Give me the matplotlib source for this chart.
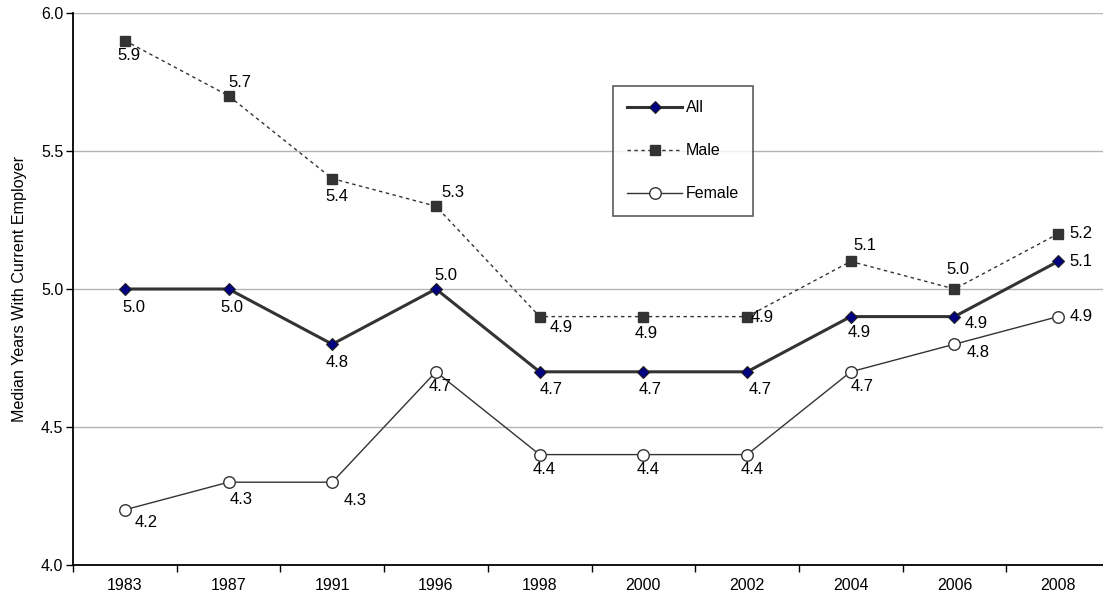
import numpy as np
import matplotlib
matplotlib.use('Agg')
import matplotlib.pyplot as plt

plt.rcParams['font.family'] = ['Liberation Sans', 'DejaVu Sans']

# Data
years = ['1983', '1987', '1991', '1996', '1998', '2000', '2002', '2004', '2006', '2008']
all_workers = [5.0, 5.0, 4.8, 5.0, 4.7, 4.7, 4.7, 4.9, 4.9, 5.1]
male = [5.9, 5.7, 5.4, 5.3, 4.9, 4.9, 4.9, 5.1, 5.0, 5.2]
female = [4.2, 4.3, 4.3, 4.7, 4.4, 4.4, 4.4, 4.7, 4.8, 4.9]

# label offsets in pixels (dx, dy) relative to each point
off_all = [(9, -18), (3, -18), (5, -18), (10, 13), (11, -18), (7, -18), (13, -18), (8, -16), (22, -7), (23, 0)]
off_male = [(4, -15), (11, 13), (5, -18), (17, 14), (22, -11), (3, -17), (15, -1), (14, 16), (3, 19), (23, 0)]
off_female = [(21, -13), (13, -17), (23, -18), (4, -15), (4, -15), (5, -15), (5, -15), (11, -15), (24, -8), (23, 0)]

fig = plt.figure(figsize=(11.03, 6.05), dpi=100)
ax = fig.add_axes([73 / 1103, 40 / 605, 1037 / 1103, 552 / 605])

x = np.arange(len(years))
ax.plot(x, all_workers, color='#333333', lw=2.2, marker='D', ms=6.5,
        markerfacecolor='#000080', markeredgecolor='#222222', markeredgewidth=0.8,
        label='All', zorder=4)
ax.plot(x, male, color='#333333', lw=1.0, ls=(0, (2.5, 2.5)), marker='s', ms=7.7,
        markerfacecolor='#333333', markeredgecolor='#333333', label='Male', zorder=3)
ax.plot(x, female, color='#333333', lw=1.0, marker='o', ms=8.3,
        markerfacecolor='white', markeredgecolor='#333333', markeredgewidth=1.0,
        label='Female', zorder=3)

for vals, offs in [(all_workers, off_all), (male, off_male), (female, off_female)]:
    for xi, v, (dx, dy) in zip(x, vals, offs):
        ax.annotate(f'{v:.1f}', (xi, v), xytext=(dx, dy), textcoords='offset pixels',
                    ha='center', va='center', fontsize=12, color='black', zorder=5)

ax.set_xlim(-0.5, len(years) - 0.5)
ax.set_ylim(4.0, 6.0)
ax.set_yticks([4.0, 4.5, 5.0, 5.5, 6.0])
ax.set_yticklabels(['4.0', '4.5', '5.0', '5.5', '6.0'], fontsize=11.5)
ax.set_xticks(x)
ax.set_xticklabels(years, fontsize=11.5)
ax.set_xticks(np.arange(len(years) + 1) - 0.5, minor=True)
ax.tick_params(axis='x', which='major', length=0, pad=9)
ax.tick_params(axis='x', which='minor', length=5, direction='out', width=1)
ax.tick_params(axis='y', length=5, width=1, pad=2)
ax.yaxis.grid(True, color='#b4b4b4', lw=1.0)
ax.set_axisbelow(True)
for s in ['top', 'right']:
    ax.spines[s].set_visible(False)
ax.spines['left'].set_linewidth(1.3)
ax.spines['bottom'].set_linewidth(1.3)
ax.set_ylabel('Median Years With Current Employer', fontsize=11.6, labelpad=10)

leg = ax.legend(loc='upper left', bbox_to_anchor=(613 / 1103, 1 - 86 / 605),
                bbox_transform=fig.transFigure, fontsize=11.5, frameon=True,
                fancybox=False, edgecolor='#333333', handlelength=3.4,
                labelspacing=1.75, borderpad=0.9, handletextpad=0.25, borderaxespad=0)
leg.get_frame().set_linewidth(1.2)

fig.savefig('out.png', dpi=100)
